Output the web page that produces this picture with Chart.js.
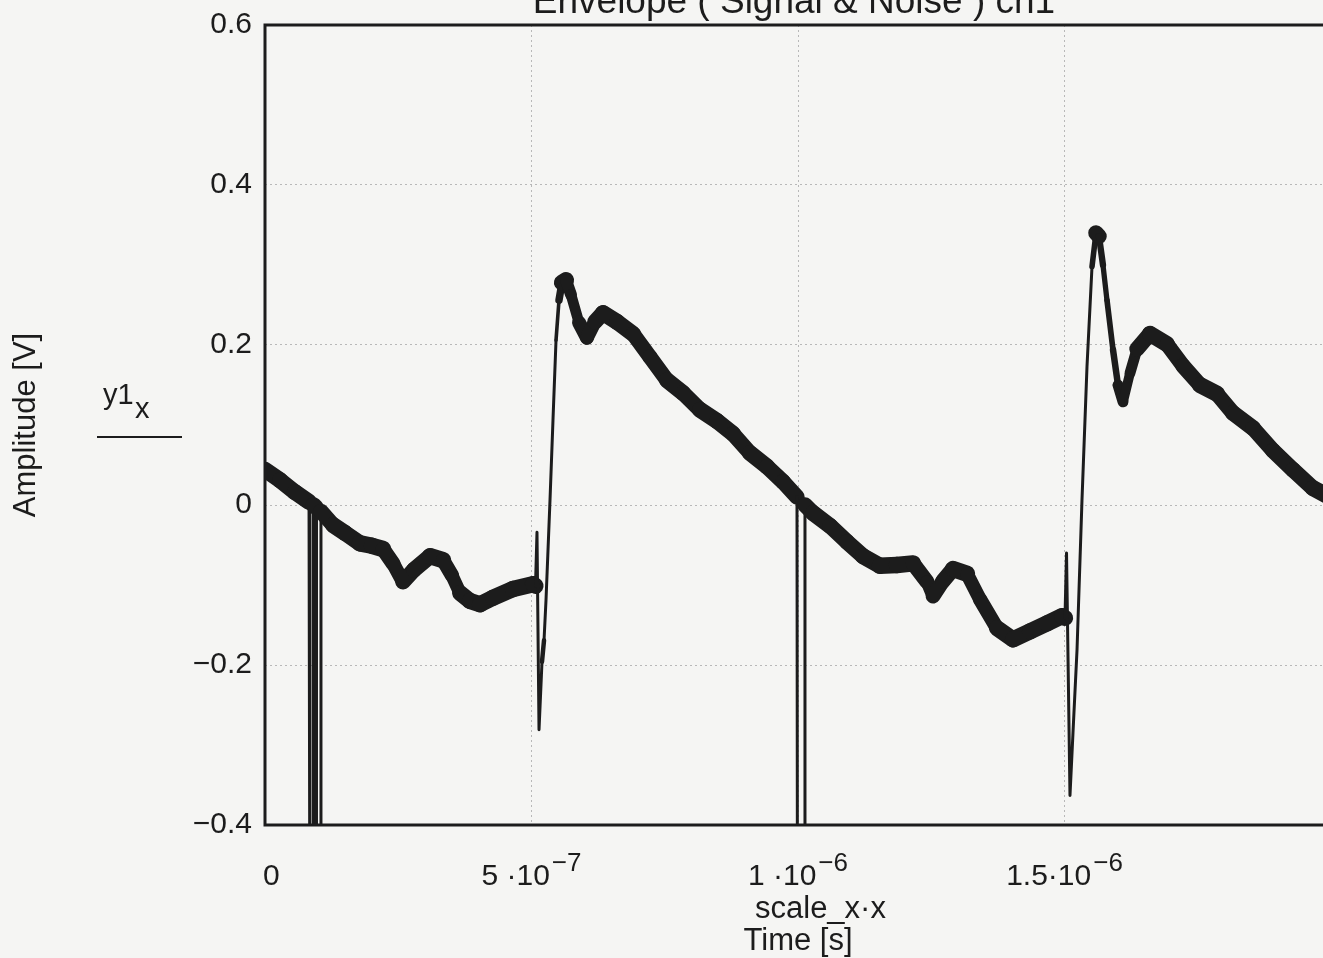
<!DOCTYPE html>
<html>
<head>
<meta charset="utf-8">
<title>Envelope ( Signal &amp; Noise ) ch1</title>
<script src="https://cdn.jsdelivr.net/npm/chart.js@4.4.1/dist/chart.umd.min.js"></script>
<style>
  html, body { margin: 0; padding: 0; overflow: hidden; background: #f5f5f3; }
  #wrap { position: absolute; left: 0; top: -30px; width: 1345px; height: 988px; }
</style>
</head>
<body>
<div id="wrap"><canvas id="envChart" width="1345" height="988"></canvas></div>
<script>
// trace: time in microseconds, amplitude in volts
// (values of -0.6 are the drop-outs that run off the bottom of the plot)
const timeUs = [
  0, 0.0281, 0.0563, 0.0826, 0.0844, 0.0901, 0.0910, 0.0957, 0.0966, 0.1041,
  0.1050, 0.1276, 0.1501, 0.1782, 0.2008, 0.2214, 0.2402, 0.2589, 0.2795, 0.3096,
  0.3340, 0.3508, 0.3659, 0.3846, 0.4034, 0.4278, 0.4653, 0.5028,
  0.5075, 0.5103, 0.5141, 0.5197, 0.5235, 0.5272, 0.5347, 0.5403, 0.5460, 0.5516, 0.5572,
  0.5647, 0.5741, 0.5891, 0.6041, 0.6191, 0.6341, 0.6604, 0.6904, 0.7223, 0.7542,
  0.7842, 0.8161, 0.8480, 0.8780, 0.9099, 0.9418, 0.9719, 0.9981, 0.9991, 1.0122,
  1.0131, 1.0281, 1.0600, 1.0919, 1.1220, 1.1538, 1.1857, 1.2158, 1.2420, 1.2533,
  1.2720, 1.2908, 1.3171, 1.3415, 1.3733, 1.4034, 1.4353, 1.4672, 1.4953,
  1.5009, 1.5038, 1.5103, 1.5159, 1.5235, 1.5328, 1.5422, 1.5516, 1.5591, 1.5647,
  1.5722, 1.5797, 1.5910, 1.6004, 1.6098, 1.6229, 1.6360, 1.6604, 1.6923, 1.7223,
  1.7542, 1.7861, 1.8161, 1.8537, 1.8912, 1.9287, 1.9662, 2.0000
];
const amplitude = [
  0.044, 0.031, 0.016, 0.004, -0.6, -0.6, 0.000, -0.003, -0.6, -0.6,
  -0.008, -0.025, -0.035, -0.048, -0.051, -0.055, -0.073, -0.096, -0.081, -0.064,
  -0.069, -0.088, -0.110, -0.120, -0.124, -0.116, -0.105, -0.099,
  -0.101, -0.034, -0.281, -0.196, -0.169, -0.119, 0.006, 0.106, 0.206, 0.256, 0.278,
  0.281, 0.263, 0.228, 0.209, 0.229, 0.240, 0.229, 0.214, 0.185, 0.156,
  0.140, 0.119, 0.105, 0.089, 0.065, 0.048, 0.029, 0.010, -0.6, -0.6,
  0.000, -0.010, -0.026, -0.046, -0.064, -0.076, -0.075, -0.073, -0.096, -0.114,
  -0.095, -0.080, -0.086, -0.118, -0.154, -0.168, -0.158, -0.148, -0.139,
  -0.141, -0.060, -0.363, -0.285, -0.181, 0.006, 0.173, 0.298, 0.340, 0.336,
  0.300, 0.256, 0.194, 0.150, 0.129, 0.165, 0.195, 0.214, 0.201, 0.174,
  0.150, 0.139, 0.115, 0.096, 0.068, 0.044, 0.021, 0.009
];

const yTickValues = [-0.4, -0.2, 0, 0.2, 0.4, 0.6];
const yTickLabels = ['\u22120.4', '\u22120.2', '0', '0.2', '0.4', '0.6'];
const xTickValues = [0, 5e-7, 1e-6, 1.5e-6];
const xTickBase = ['0', '5 \u00b710', '1 \u00b710', '1.5\u00b710'];
const xTickExp = ['', '\u22127', '\u22126', '\u22126'];

const titleText = 'Envelope ( Signal & Noise ) ch1';
const ink = '#1c1c1c';
const fontName = '"Liberation Sans", Arial, sans-serif';

const points = timeUs.map((t, i) => ({ x: t * 1e-6, y: amplitude[i] }));

// the noise makes the trace a band of roughly constant vertical height,
// so steep parts of the trace look thin
function bandWidth(ctx) {
  const dx = Math.abs(ctx.p1.x - ctx.p0.x);
  const dy = Math.abs(ctx.p1.y - ctx.p0.y);
  const s = dy / Math.max(dx, 0.01);
  return Math.max(3, 16.5 / Math.sqrt(1 + (s / 3) * (s / 3)));
}

const mathcadText = {
  id: 'mathcadText',
  afterDraw(chart) {
    const { ctx, chartArea: a, scales: { x } } = chart;
    const cx = (a.left + a.right) / 2;
    const cy = (a.top + a.bottom) / 2;
    ctx.save();
    ctx.strokeStyle = ink;
    ctx.fillStyle = ink;
    ctx.lineWidth = 3;
    ctx.strokeRect(a.left, a.top, a.right - a.left, a.bottom - a.top);

    ctx.textBaseline = 'alphabetic';
    ctx.textAlign = 'center';
    ctx.font = '37px ' + fontName;
    ctx.fillText(titleText, cx - 4, a.top - 12);

    // x tick labels, Mathcad style 5·10^-7
    ctx.textAlign = 'left';
    xTickValues.forEach((v, i) => {
      ctx.font = '30px ' + fontName;
      const wb = ctx.measureText(xTickBase[i]).width;
      ctx.font = '26px ' + fontName;
      const we = xTickExp[i] ? ctx.measureText(xTickExp[i]).width + 2 : 0;
      let left = x.getPixelForValue(v) - (wb + we) / 2;
      if (left < a.left - 2) left = a.left - 2;
      ctx.font = '30px ' + fontName;
      ctx.fillText(xTickBase[i], left, a.bottom + 60);
      if (xTickExp[i]) {
        ctx.font = '26px ' + fontName;
        ctx.fillText(xTickExp[i], left + wb + 2, a.bottom + 46);
      }
    });

    ctx.font = '31px ' + fontName;
    ctx.fillText('scale_x\u00b7x', cx - 43, a.bottom + 93);
    ctx.textAlign = 'center';
    ctx.fillText('Time [s]', cx, a.bottom + 125);

    // trace label y1_x with its line sample
    ctx.textAlign = 'left';
    ctx.font = '29px ' + fontName;
    ctx.fillText('y1', 103, cy - 21);
    ctx.fillText('x', 135, cy - 7);
    ctx.lineWidth = 2;
    ctx.beginPath();
    ctx.moveTo(97, cy + 12);
    ctx.lineTo(182, cy + 12);
    ctx.stroke();
    ctx.restore();
  }
};

const gridStyle = { color: '#b8b8b8', lineWidth: 1, drawTicks: false };

new Chart(document.getElementById('envChart'), {
  type: 'line',
  data: {
    datasets: [{
      label: 'y1',
      data: points,
      borderColor: ink,
      borderWidth: 12,
      borderCapStyle: 'round',
      borderJoinStyle: 'round',
      pointRadius: 0,
      tension: 0,
      clip: 0,
      segment: { borderWidth: bandWidth }
    }]
  },
  options: {
    responsive: false,
    animation: false,
    devicePixelRatio: 1,
    layout: { padding: { left: 0, top: 55, right: 14, bottom: 0 } },
    plugins: { legend: { display: false }, tooltip: { enabled: false }, title: { display: false } },
    scales: {
      x: {
        type: 'linear',
        min: 0,
        max: 2e-6,
        afterBuildTicks: s => { s.ticks = xTickValues.map(v => ({ value: v })); },
        afterFit: s => { s.height = 133; },
        ticks: { display: false },
        grid: gridStyle,
        border: { display: false, dash: [2, 3] }
      },
      y: {
        min: -0.4,
        max: 0.6,
        afterBuildTicks: s => { s.ticks = yTickValues.map(v => ({ value: v })); },
        afterFit: s => { s.width = 265; },
        ticks: {
          callback: (v, i) => yTickLabels[i],
          font: { family: fontName, size: 30 },
          color: ink,
          padding: 13
        },
        title: {
          display: true,
          text: 'Amplitude [V]',
          font: { family: fontName, size: 31 },
          color: ink,
          padding: { top: 8, bottom: 0 }
        },
        grid: gridStyle,
        border: { display: false, dash: [2, 3] }
      }
    }
  },
  plugins: [mathcadText]
});
</script>
</body>
</html>
